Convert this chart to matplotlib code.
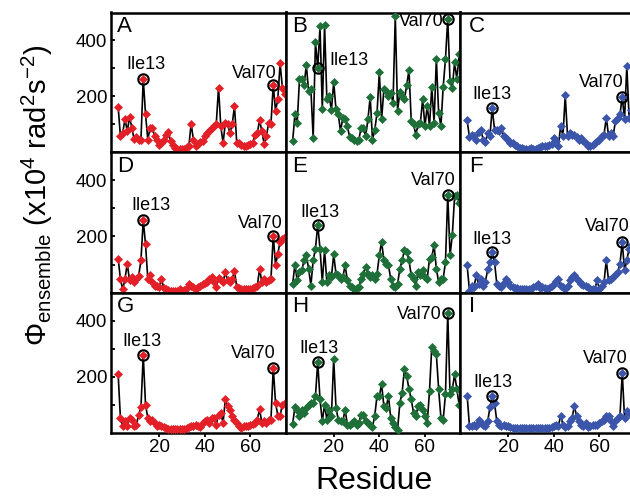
import numpy as np
import matplotlib
matplotlib.use("Agg")
import matplotlib.pyplot as plt

plt.rcParams['font.family'] = ['Liberation Sans', 'DejaVu Sans']
plt.rcParams['mathtext.fontset'] = 'custom'
plt.rcParams['mathtext.rm'] = 'Liberation Sans'
plt.rcParams['mathtext.it'] = 'Liberation Sans:italic'
plt.rcParams['mathtext.bf'] = 'Liberation Sans:bold'

# residue numbers shared by all panels
first_residue = 2

# Phi_ensemble values (x10^4 rad^2 s^-2), one list per panel
phi_A = [163, 58, 70, 120, 76, 127, 88, 48, 55, 43,
         45, 262, 138, 46, 88, 88, 60, 45, 28, 35,
         46, 64, 72, 40, 25, 16, 13, 12, 12, 14,
         19, 22, 103, 46, 22, 31, 36, 40, 58, 70,
         76, 88, 94, 100, 232, 94, 34, 106, 100, 70,
         100, 166, 34, 34, 28, 22, 22, 25, 31, 34,
         64, 70, 115, 76, 31, 58, 106, 103, 242, 148,
         190, 319, 232, 208]
phi_B = [40, 136, 106, 262, 262, 240, 312, 220, 226, 52,
         396, 301, 451, 154, 454, 190, 202, 150, 252, 154,
         136, 76, 124, 118, 94, 55, 52, 46, 40, 45,
         88, 88, 58, 118, 199, 46, 80, 142, 286, 118,
         226, 220, 202, 214, 178, 487, 148, 216, 202, 190,
         240, 295, 112, 100, 64, 100, 106, 190, 94, 166,
         94, 235, 106, 334, 142, 94, 235, 334, 478, 255,
         232, 322, 262, 350]
phi_C = [115, 55, 64, 58, 46, 72, 82, 46, 36, 70,
         60, 158, 82, 82, 76, 88, 58, 50, 46, 34,
         34, 28, 22, 16, 16, 14, 12, 14, 16, 12,
         12, 16, 20, 22, 22, 22, 28, 31, 52, 40,
         22, 96, 58, 204, 60, 70, 64, 64, 55, 46,
         52, 40, 34, 22, 22, 28, 34, 40, 46, 58,
         64, 124, 60, 70, 58, 112, 124, 136, 199, 118,
         310, 124, 150, 130]
phi_D = [121, 49, 11, 49, 103, 43, 55, 37, 49, 60,
         115, 258, 172, 49, 61, 37, 25, 22, 19, 49,
         16, 13, 10, 7, 6, 6, 6, 11, 6, 8,
         16, 31, 25, 19, 13, 20, 25, 31, 34, 37,
         49, 55, 37, 19, 52, 43, 37, 73, 43, 37,
         50, 76, 19, 16, 13, 11, 12, 13, 13, 15,
         19, 22, 85, 37, 49, 37, 43, 49, 203, 97,
         139, 181, 191, 199]
phi_E = [31, 100, 43, 73, 79, 115, 133, 85, 25, 115,
         157, 241, 157, 37, 151, 37, 61, 55, 136, 67,
         61, 49, 55, 97, 43, 25, 19, 13, 16, 19,
         49, 67, 91, 67, 55, 61, 49, 67, 133, 181,
         115, 103, 97, 49, 25, 19, 30, 85, 115, 151,
         145, 115, 61, 49, 25, 73, 61, 79, 55, 49,
         121, 127, 169, 85, 37, 49, 49, 109, 349, 133,
         205, 343, 349, 319]
phi_F = [97, 7, 25, 19, 61, 31, 49, 25, 37, 83,
         109, 143, 109, 31, 25, 19, 35, 49, 37, 25,
         19, 17, 16, 13, 11, 11, 11, 12, 13, 19,
         25, 31, 16, 19, 16, 13, 16, 25, 31, 40,
         49, 25, 19, 13, 25, 43, 55, 64, 49, 40,
         31, 28, 25, 19, 11, 12, 13, 43, 13, 25,
         37, 115, 43, 49, 55, 61, 73, 103, 179, 79,
         115, 157, 169, 160]
phi_G = [208, 52, 24, 40, 22, 52, 46, 22, 28, 64,
         90, 276, 100, 52, 40, 46, 34, 22, 28, 24,
         19, 16, 14, 12, 12, 12, 12, 12, 12, 12,
         16, 19, 22, 24, 28, 22, 19, 34, 40, 46,
         34, 52, 52, 28, 64, 70, 34, 120, 94, 82,
         58, 45, 34, 22, 16, 22, 22, 22, 28, 30,
         34, 46, 84, 34, 40, 34, 46, 46, 230, 106,
         60, 60, 100, 106]
phi_H = [31, 91, 82, 58, 82, 70, 88, 100, 106, 106,
         130, 252, 118, 40, 100, 46, 82, 60, 264, 88,
         46, 40, 40, 82, 28, 28, 34, 40, 28, 34,
         64, 64, 40, 34, 28, 20, 60, 132, 130, 172,
         94, 88, 130, 52, 34, 19, 10, 106, 142, 228,
         202, 154, 118, 70, 58, 94, 100, 82, 58, 34,
         148, 307, 292, 280, 154, 52, 46, 136, 427, 136,
         154, 208, 154, 100]
phi_I = [132, 24, 22, 28, 22, 46, 34, 28, 24, 40,
         90, 132, 106, 40, 28, 22, 28, 22, 22, 19,
         17, 16, 16, 16, 15, 15, 15, 15, 15, 15,
         15, 15, 15, 15, 15, 16, 16, 18, 22, 28,
         24, 60, 28, 19, 24, 40, 52, 94, 58, 40,
         28, 22, 34, 19, 22, 28, 28, 28, 34, 40,
         46, 58, 60, 40, 22, 40, 52, 58, 214, 52,
         76, 70, 70, 70]

panel_letters = ['A', 'B', 'C', 'D', 'E', 'F', 'G', 'H', 'I']
panel_values = [phi_A, phi_B, phi_C, phi_D, phi_E, phi_F, phi_G, phi_H, phi_I]
highlight_residues = [13, 70]
highlight_names = ['Ile13', 'Val70']
x_ticks = [20, 40, 60]
y_ticks = [100, 200, 300, 400]
y_ticklabels = ['', '200', '', '400']

column_colors = ['#e32028', '#1f6f38', '#3a55a9']

# label placement per panel: (ha, va, dx_pt, dy_pt) for Ile13 and Val70
label_style = {
    'A': [('center', 'baseline', 2.2, 7.2), ('right', 'baseline', 2.2, 5.0)],
    'B': [('left', 'center', 8.6, 5.4), ('right', 'center', -3.0, -2.2)],
    'C': [('center', 'baseline', 0.0, 6.5), ('right', 'baseline', 0.7, 7.2)],
    'D': [('center', 'baseline', 5.8, 7.2), ('right', 'baseline', 6.5, 5.4)],
    'E': [('center', 'baseline', 1.4, 5.8), ('right', 'baseline', 5.5, 7.2)],
    'F': [('center', 'baseline', 0.0, 5.8), ('right', 'baseline', 5.0, 7.9)],
    'G': [('center', 'baseline', -0.7, 6.8), ('right', 'baseline', 1.9, 7.2)],
    'H': [('center', 'baseline', 0.7, 6.5), ('right', 'center', -4.1, -1.2)],
    'I': [('center', 'baseline', 0.7, 5.8), ('right', 'baseline', 3.6, 7.2)],
}

W, H = 630, 496
fig = plt.figure(figsize=(W / 100, H / 100), dpi=100)

col_left = [111.3, 285.8, 460.3]
row_top = [12.5, 152.5, 292.5]
pw, ph = 174.5, 140.0
letter_dx = [6.0, 6.0, 9.0]

for k, (letter, vals) in enumerate(zip(panel_letters, panel_values)):
    row, col = divmod(k, 3)
    l, t = col_left[col], row_top[row]
    ax = fig.add_axes([l / W, 1 - (t + ph) / H, pw / W, ph / H])
    residues = np.arange(first_residue, first_residue + len(vals))
    vals = np.asarray(vals, dtype=float)
    color = column_colors[col]

    ax.plot(residues, vals, '-', color='black', lw=1.2, zorder=2)
    ax.plot(residues, vals, 'D', color=color, ms=3.8, mec=color, mew=0.5,
            zorder=3, linestyle='none')

    for (res, name, style) in zip(highlight_residues, highlight_names,
                                  label_style[letter]):
        v = vals[res - first_residue]
        ax.plot([res], [v], 'o', mfc='none', mec='black', ms=7.5, mew=1.5,
                zorder=4)
        ha, va, dx, dy = style
        ax.annotate(name, xy=(res, v), xytext=(dx, dy),
                    textcoords='offset points', ha=ha, va=va, fontsize=13,
                    annotation_clip=False, zorder=5)

    ax.set_xlim(-1, 75.5)
    ax.set_ylim(0, 500)
    for s in ax.spines.values():
        s.set_linewidth(1.8)

    ax.text(letter_dx[col] / pw, 1 - 19.2 / ph, letter, transform=ax.transAxes,
            ha='left', va='baseline', fontsize=16)

    if col == 0:
        ax.set_yticks(y_ticks)
        ax.set_yticklabels(y_ticklabels)
        ax.tick_params(axis='y', direction='in', length=3, width=1.3,
                       labelsize=13.5, pad=3)
    else:
        ax.set_yticks([])
    if row == 2:
        ax.set_xticks(x_ticks)
        ax.tick_params(axis='x', direction='out', length=3, width=1.3,
                       labelsize=13.5, pad=2)
    else:
        ax.set_xticks([])

fig.text(374 / W, 1 - 489 / H, 'Residue', ha='center', va='baseline',
         fontsize=23)
fig.text(37 / W, 1 - 195 / H,
         r'$\Phi_{\mathrm{ensemble}}$ (x10$^{4}$ rad$^{2}$s$^{-2}$)',
         rotation=90, ha='center', va='center', fontsize=21)

fig.savefig('out.png', dpi=100)
